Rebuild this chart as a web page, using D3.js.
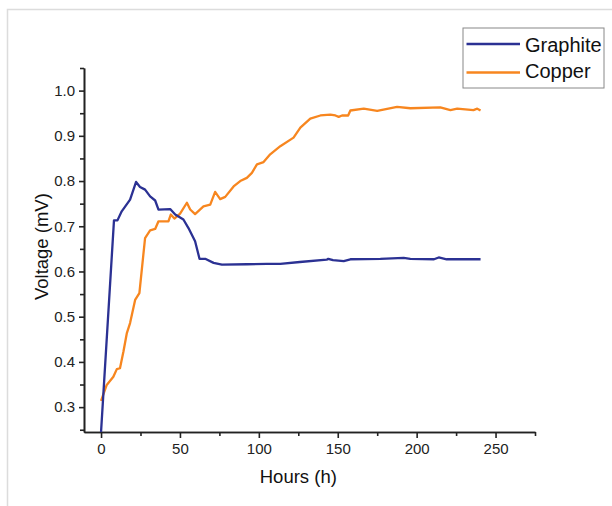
<!DOCTYPE html>
<html>
<head>
<meta charset="utf-8">
<script src="https://cdn.jsdelivr.net/npm/d3@7"></script>
<style>
  body { margin: 0; background: #fff; }
  text { font-family: "Liberation Sans", Arial, sans-serif; }
</style>
</head>
<body>
<div id="chart"></div>
<script>
// hours, voltage
const graphiteHours = [0, 8.2, 10.4, 13.1, 18.4, 22.2, 24.7, 27.9, 31.1, 34.3, 36.4, 43.8, 47, 52.2, 55.4, 59.6, 62.4, 66, 71.3, 76.6, 92.4, 105, 113.6, 126, 143, 144, 147, 153.8, 158, 177, 191.8, 196, 211, 214, 219, 232, 240.5];
const graphiteVolt  = [0.245, 0.713, 0.713, 0.733, 0.759, 0.798, 0.787, 0.781, 0.766, 0.757, 0.737, 0.738, 0.726, 0.715, 0.696, 0.667, 0.628, 0.628, 0.619, 0.615, 0.616, 0.617, 0.617, 0.621, 0.626, 0.628, 0.625, 0.623, 0.627, 0.628, 0.630, 0.628, 0.627, 0.631, 0.627, 0.627, 0.627];

const copperHours = [0, 3.6, 7.8, 10, 12, 14.2, 16.3, 18.4, 21.6, 24.3, 27.9, 31.1, 34.3, 36.4, 42.7, 44.2, 46.5, 50.1, 54.4, 56.5, 59.6, 64.9, 69.2, 72.3, 75.5, 78.7, 84, 88.2, 92.4, 95.6, 98.8, 103, 107.2, 113.6, 122, 126.3, 132.6, 139, 145.3, 148.5, 150.6, 152.7, 156.6, 158, 166.5, 175, 187.6, 196, 215, 221.4, 225.7, 236, 238.4, 240.5];
const copperVolt  = [0.314, 0.349, 0.367, 0.384, 0.386, 0.423, 0.463, 0.486, 0.537, 0.552, 0.674, 0.691, 0.694, 0.711, 0.711, 0.726, 0.717, 0.728, 0.752, 0.737, 0.727, 0.744, 0.748, 0.776, 0.760, 0.765, 0.788, 0.800, 0.807, 0.818, 0.837, 0.842, 0.859, 0.877, 0.896, 0.918, 0.938, 0.945, 0.947, 0.945, 0.942, 0.945, 0.945, 0.956, 0.960, 0.955, 0.964, 0.961, 0.963, 0.957, 0.960, 0.957, 0.960, 0.956];

const seriesNames = ["Graphite", "Copper"];
const seriesColors = ["#2b3193", "#f7861f"];
const xTicks = [0, 50, 100, 150, 200, 250];
const xMinor = [25, 75, 125, 175, 225, 275];
const yTicks = [0.3, 0.4, 0.5, 0.6, 0.7, 0.8, 0.9, 1.0];
const yMinor = [0.25, 0.35, 0.45, 0.55, 0.65, 0.75, 0.85, 0.95, 1.05];

const W = 612, H = 506;
const margin = {top: 68, right: 77, bottom: 74, left: 84},
    width = W - margin.left - margin.right,
    height = H - margin.top - margin.bottom;

const svgRoot = d3.select("#chart")
    .append("svg")
    .attr("width", W)
    .attr("height", H);

// faint frame round the figure
svgRoot.append("rect")
    .attr("x", 7.5).attr("y", 9.5)
    .attr("width", W).attr("height", H)
    .style("fill", "none")
    .style("stroke", "#dcdcdc")
    .style("stroke-width", 1.5);

const svg = svgRoot.append("g")
    .attr("transform", `translate(${margin.left}, ${margin.top})`);

const x = d3.scaleLinear().domain([-10.8, 275]).range([0, width]);
const y = d3.scaleLinear().domain([0.245, 1.05]).range([height, 0]);

// axes
svg.append("g")
    .attr("transform", `translate(0, ${height})`)
    .call(d3.axisBottom(x).tickValues(xTicks).tickSize(6).tickSizeOuter(0).tickPadding(5));
svg.append("g")
    .attr("transform", `translate(0, ${height})`)
    .call(d3.axisBottom(x).tickValues(xMinor).tickSize(4).tickSizeOuter(0).tickFormat(""));

svg.append("g")
    .call(d3.axisLeft(y).tickValues(yTicks).tickSize(5).tickSizeOuter(0).tickPadding(4).tickFormat(d3.format(".1f")));
svg.append("g")
    .call(d3.axisLeft(y).tickValues(yMinor).tickSize(4).tickSizeOuter(0).tickFormat(""));

svg.selectAll(".domain, .tick line")
    .style("stroke", "#222")
    .style("stroke-width", 1.6);
svg.selectAll(".tick text")
    .attr("font-size", "15px")
    .attr("fill", "#222")
    .style("font-family", "'Liberation Sans', Arial, sans-serif");

// axis titles
svg.append("text")
    .attr("x", x(125))
    .attr("y", height + 51)
    .text("Hours (h)")
    .attr("font-size", "18.5px")
    .attr("fill", "#111")
    .style("text-anchor", "middle");

svg.append("text")
    .attr("transform", `translate(-36, ${y(0.655)}) rotate(-90)`)
    .text("Voltage (mV)")
    .attr("font-size", "18.5px")
    .attr("fill", "#111")
    .style("text-anchor", "middle");

// lines
const series = [
    {name: seriesNames[0], color: seriesColors[0], pts: d3.zip(graphiteHours, graphiteVolt)},
    {name: seriesNames[1], color: seriesColors[1], pts: d3.zip(copperHours, copperVolt)}
];

const line = d3.line()
    .x(function(d) { return x(d[0]); })
    .y(function(d) { return y(d[1]); });

svg.selectAll(".series")
    .data(series.slice().reverse())
    .join("path")
    .attr("class", "series")
    .attr("d", function(d) { return line(d.pts); })
    .style("fill", "none")
    .style("stroke", function(d) { return d.color; })
    .style("stroke-width", 2.3)
    .style("stroke-linejoin", "round");

// legend
const legend = svgRoot.append("g").attr("transform", "translate(463, 28)");
legend.append("rect")
    .attr("width", 141).attr("height", 60)
    .style("fill", "#fff")
    .style("stroke", "#888")
    .style("stroke-width", 1);

legend.selectAll(".leg-line")
    .data(series)
    .join("line")
    .attr("x1", 3.5).attr("x2", 57)
    .attr("y1", function(d, i) { return 16 + i * 28.5; })
    .attr("y2", function(d, i) { return 16 + i * 28.5; })
    .style("stroke", function(d) { return d.color; })
    .style("stroke-width", 2.5);

legend.selectAll(".leg-text")
    .data(series)
    .join("text")
    .attr("x", 62)
    .attr("y", function(d, i) { return 23.5 + i * 26.5; })
    .text(function(d) { return d.name; })
    .attr("font-size", "20px")
    .attr("fill", "#111");
</script>
</body>
</html>
